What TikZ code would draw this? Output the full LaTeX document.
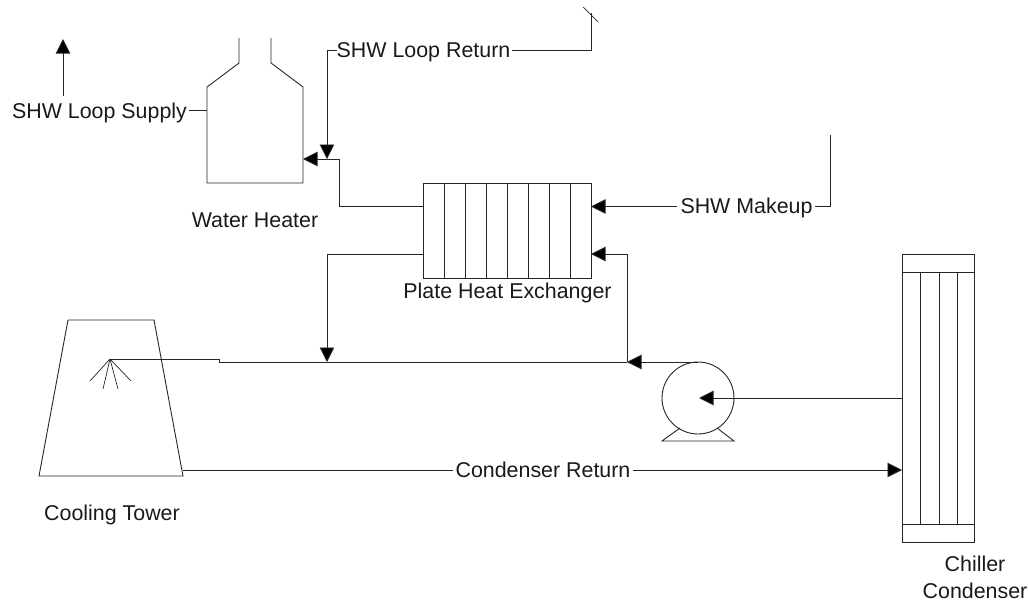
\documentclass[tikz,border=0pt]{standalone}
\usepackage{fontspec}
\setmainfont{Liberation Sans}
\usetikzlibrary{arrows.meta}
\tikzset{
  pipe/.style={draw=black!85, line width=0.9pt, line join=miter},
  flow/.style={pipe, -{Triangle[width=14.5pt,length=14.5pt,fill=black]}},
  lbl/.style={font=\fontsize{21.4}{26.5}\selectfont, inner sep=0pt, text=black!90, align=center},
  box/.style={pipe, rectangle, inner sep=0pt, outer sep=0pt, minimum width=0pt, minimum height=0pt}
}
\begin{document}
\begin{tikzpicture}[x=1pt,y=-1pt]
\useasboundingbox (0,0) rectangle (1028,605);
% equipment
\node[box, minimum width=168pt, minimum height=95pt] (hx) at (507,230.5) {};
\foreach \px in {444,465,486,507,528,549,570}{\draw[pipe] (\px,183) -- (\px,278);}
\node[box, minimum width=72pt, minimum height=288pt] (cond) at (938,398) {};
\draw[pipe] (902,272) -- (974,272);
\draw[pipe] (902,524) -- (974,524);
\foreach \px in {920.5,939,957}{\draw[pipe] (\px,272) -- (\px,524);}
\node[box, circle, minimum size=72pt] (pump) at (698,398) {};
\draw[pipe] (680,428) -- (662,441) -- (734,441) -- (717,428);
% water heater
\draw[pipe] (239,38) -- (239,63) -- (207,87) -- (207,183) -- (303,183) -- (303,87) -- (271,63) -- (271,38);
% cooling tower
\draw[pipe] (68,320) -- (154,320) -- (183,476) -- (39,476) -- cycle;
\coordinate (spray) at (110,359);
\foreach \sx/\sy in {90/381,103/389,118/389,131/381}{\draw[pipe, line width=0.7pt] (spray) -- (\sx,\sy);}
% labels
\node[lbl] (supply) at (99.5,113) {SHW Loop Supply};
\node[lbl] (ret) at (423.5,52) {SHW Loop Return};
\node[lbl] (makeup) at (746.5,208) {SHW Makeup};
\node[lbl] (wh) at (255,220.5) {Water Heater};
\node[lbl] (hxl) at (507.5,293) {Plate Heat Exchanger};
\node[lbl] (ct) at (112,515) {Cooling Tower};
\node[lbl] (cr) at (543,470) {Condenser Return};
\node[lbl] (cc) at (975,577.5) {Chiller\\Condenser};
% free ends
\coordinate (supS) at (63,96); \coordinate (supE) at (63,39);
\coordinate (wheatS) at (207,110); \coordinate (supL) at (189,110);
\coordinate (whin) at (303,159); \coordinate (tee) at (327,159);
\coordinate (retA) at (337,50); \coordinate (retB) at (327,50);
\coordinate (retC) at (512,50); \coordinate (retD) at (591,50); \coordinate (retE) at (591,13);
\coordinate (slashA) at (583,7); \coordinate (slashB) at (598,22);
\coordinate (hxTL) at (423,206.5); \coordinate (hxBL) at (423,254);
\coordinate (hxTR) at (591,206.5); \coordinate (hxBR) at (591,254);
\coordinate (mkA) at (677,206.5); \coordinate (mkB) at (815,206.5); \coordinate (mkC) at (830,206.5); \coordinate (mkD) at (830,135);
\coordinate (mainT) at (327,362); \coordinate (mainP) at (627,362);
\coordinate (pumpIn) at (699,398); \coordinate (condOut) at (902,398);
\coordinate (ctOut) at (183,470); \coordinate (crL) at (453,470); \coordinate (crR) at (633,470); \coordinate (condIn) at (902,470);
% connectors
\draw[flow] (supS) -- (supE);
\draw[pipe] (supL) -- (wheatS);
\draw[pipe] (retA) -- (retB);
\draw[flow] (retB) -- (tee);
\draw[pipe] (retC) -- (retD) -- (retE);
\draw[pipe, line width=0.7pt] (slashA) -- (slashB);
\draw[flow] (hxTL) -| (339,159) -- (whin);
\draw[flow] (mkA) -- (hxTR);
\draw[pipe] (mkB) -- (mkC) -- (mkD);
\draw[flow] (mainP) |- (hxBR);
\draw[flow] (hxBL) -| (mainT);
\draw[pipe] (spray) -- (219,359) -- (219,362) -- (mainP);
\draw[flow] (pump.north) -- (mainP);
\draw[flow] (condOut) -- (pumpIn);
\draw[pipe] (ctOut) -- (crL);
\draw[flow] (crR) -- (condIn);
\end{tikzpicture}
\end{document}
